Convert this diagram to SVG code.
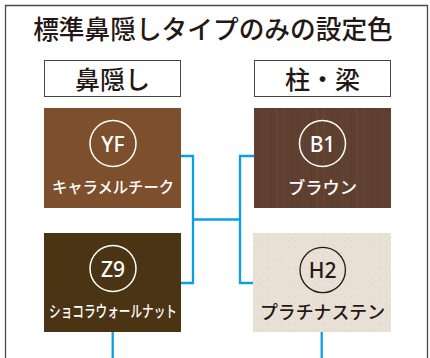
<svg xmlns="http://www.w3.org/2000/svg" width="430" height="358" viewBox="0 0 430 358">
<style>
  .jp { font-family: "Noto Sans CJK JP", "Noto Sans", sans-serif; font-weight: 500; }
  .head { font-size: 25px; fill: #231815; text-anchor: middle; }
  .code { font-family: "Noto Sans", "Liberation Sans", sans-serif; font-size: 21px; font-weight: 500; text-anchor: middle; }
  .name { text-anchor: middle; }
  .wht { fill: #ffffff; }
  .dk { fill: #231815; }
  .ring-w { fill: none; stroke: #ffffff; stroke-width: 1.5; }
  .ring-d { fill: none; stroke: #231815; stroke-width: 1.3; }
  .conn { fill: none; stroke: #0aa0e6; stroke-width: 2.3; }
  .lbl { fill: #ffffff; stroke: #444444; stroke-width: 1; }
</style>
<defs>
  <pattern id="wood" width="40" height="100" patternUnits="userSpaceOnUse">
    <rect width="40" height="100" fill="#5f4030"/>
    <rect x="3" width="2" height="100" fill="#654535" opacity="0.8"/>
    <rect x="12" width="1" height="100" fill="#583a2a" opacity="0.8"/>
    <rect x="21" width="3" height="100" fill="#634333" opacity="0.7"/>
    <rect x="31" width="1" height="100" fill="#573928" opacity="0.8"/>
    <rect x="36" width="2" height="100" fill="#664737" opacity="0.6"/>
  </pattern>
  <pattern id="stone" width="7" height="7" patternUnits="userSpaceOnUse">
    <rect width="7" height="7" fill="#e8e0d4"/>
    <rect x="1" y="2" width="1" height="1" fill="#ddd3c5"/>
    <rect x="5" y="5" width="1" height="1" fill="#efe9df"/>
    <rect x="4" y="0" width="1" height="1" fill="#e0d7ca"/>
  </pattern>
</defs>
<rect width="430" height="358" fill="#ffffff"/>
<g id="frame">
  <path d="M5.5 362 V5.5 H427.5 V362" fill="none" stroke="#4a4a4a" stroke-width="1.3"/>
</g>
<g id="title">
  <text class="jp head" x="213" y="38.5" style="font-size:25.7px">標準鼻隠しタイプのみの設定色</text>
</g>
<g id="label-hanakakushi">
  <rect class="lbl" x="44.5" y="60.5" width="136" height="36"/>
  <text class="jp head" x="112.5" y="89">鼻隠し</text>
</g>
<g id="label-hashira">
  <rect class="lbl" x="254.5" y="60.5" width="136" height="36"/>
  <text class="jp head" x="322.5" y="89">柱・梁</text>
</g>
<g id="connectors">
  <path class="conn" d="M181 156 H193 V283 H181"/>
  <path class="conn" d="M193 219.5 H240"/>
  <path class="conn" d="M254 156 H240 V283 H254"/>
  <path class="conn" d="M112.7 332 V358"/>
  <path class="conn" d="M321.7 332 V358"/>
</g>
<g id="node-YF">
  <rect x="44" y="108" width="137" height="100" fill="#7d4f2d"/>
  <circle class="ring-w" cx="113" cy="143.5" r="23"/>
  <text class="code wht" x="113" y="152">YF</text>
  <text class="jp name wht" x="113" y="193" font-size="16" textLength="122" lengthAdjust="spacingAndGlyphs">キャラメルチーク</text>
</g>
<g id="node-Z9">
  <rect x="44" y="233" width="137" height="99" fill="#4b3414"/>
  <circle class="ring-w" cx="113" cy="268.5" r="23"/>
  <text class="code wht" x="113" y="276.5">Z9</text>
  <text class="jp name wht" x="113" y="317" font-size="16" textLength="128" lengthAdjust="spacingAndGlyphs">ショコラウォールナット</text>
</g>
<g id="node-B1">
  <rect x="254" y="108" width="137" height="100" fill="url(#wood)"/>
  <circle class="ring-w" cx="322.5" cy="143.5" r="23"/>
  <text class="code wht" x="322.5" y="152">B1</text>
  <text class="jp name wht" x="322.5" y="194" font-size="17" textLength="69" lengthAdjust="spacingAndGlyphs">ブラウン</text>
</g>
<g id="node-H2">
  <rect x="253" y="233" width="138" height="99" fill="url(#stone)"/>
  <circle class="ring-d" cx="322.7" cy="270" r="22.7"/>
  <text class="code dk" x="322.7" y="277.5">H2</text>
  <text class="jp name dk" x="322.5" y="319" font-size="18" textLength="125" lengthAdjust="spacingAndGlyphs">プラチナステン</text>
</g>
</svg>
